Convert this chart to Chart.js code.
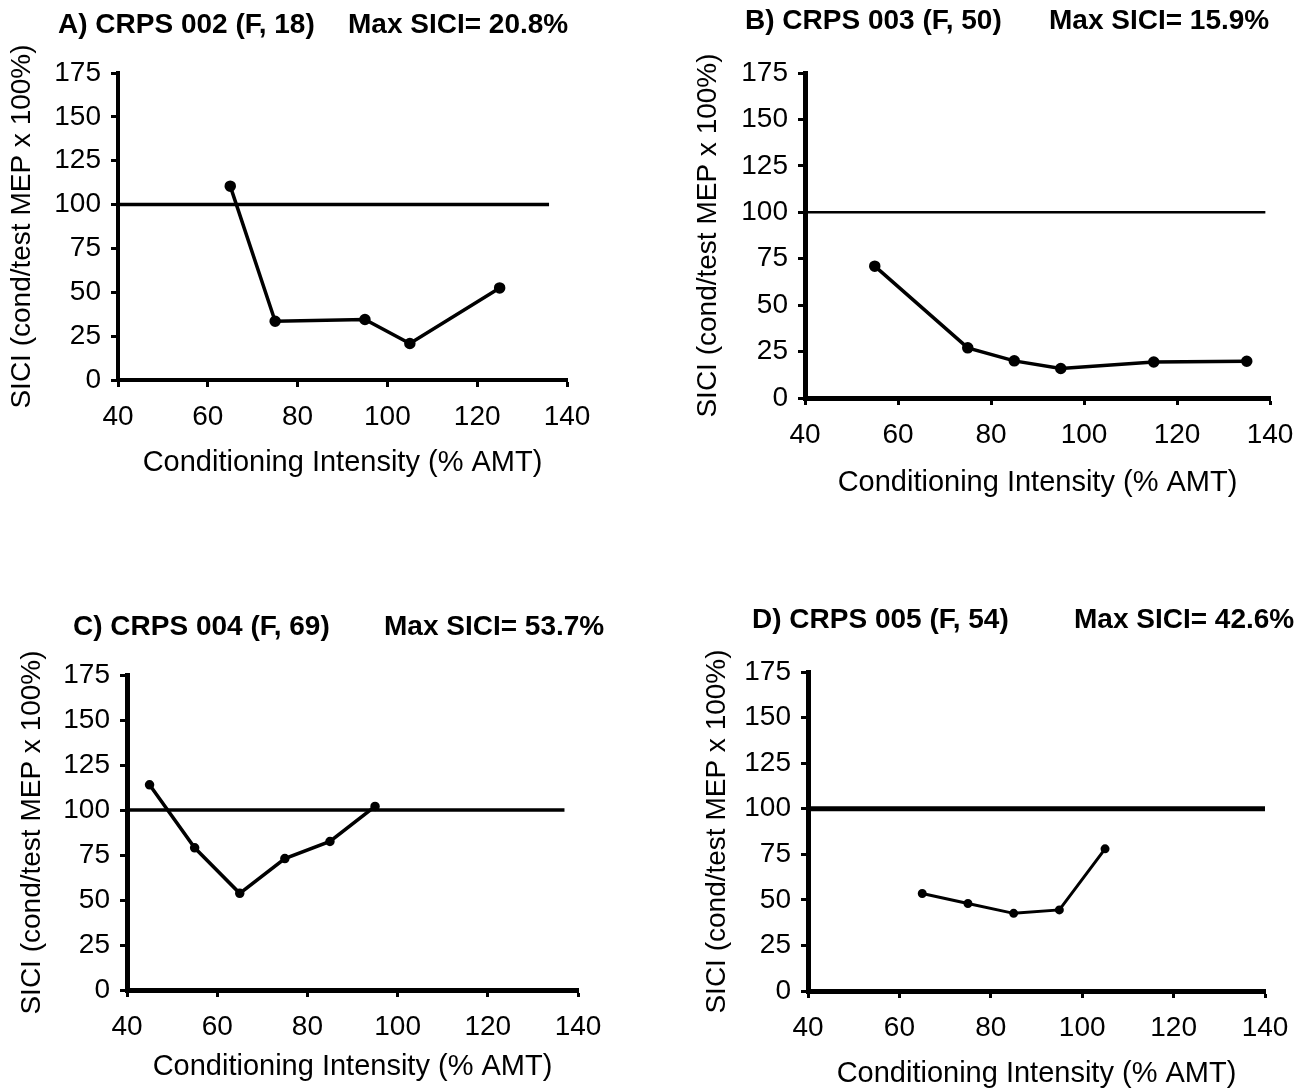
<!DOCTYPE html>
<html>
<head>
<meta charset="utf-8">
<script src="https://cdn.jsdelivr.net/npm/chart.js@4/dist/chart.umd.min.js"></script>
<style>
  body { margin: 0; width: 1310px; height: 1089px; overflow: hidden; background: #fff; position: relative; font-family: "Liberation Sans", Arial, sans-serif; }
  canvas { position: absolute; }
  .ttl { position: absolute; font-weight: bold; font-size: 28px; line-height: 28px; white-space: nowrap; color: #000; }
</style>
</head>
<body>
<script>
// shared axis ticks
const xTickMin = 40, xTickMax = 140, xTickStep = 20;
const yTickMin = 0, yTickMax = 175, yTickStep = 25;
const xTitle = 'Conditioning Intensity (% AMT)';
const yTitle = 'SICI (cond/test MEP x 100%)';
const refLevel = 100;

// panel titles
const panelNames = ['A) CRPS 002 (F, 18)', 'B) CRPS 003 (F, 50)', 'C) CRPS 004 (F, 69)', 'D) CRPS 005 (F, 54)'];
const maxSici = ['Max SICI= 20.8%', 'Max SICI= 15.9%', 'Max SICI= 53.7%', 'Max SICI= 42.6%'];

// series (conditioning intensity, SICI)
const aIntensity = [65, 75, 95, 105, 125];
const aSici = [110.5, 33.5, 34.5, 20.8, 52.5];
const bIntensity = [55, 75, 85, 95, 115, 135];
const bSici = [71, 27, 20, 15.9, 19.4, 19.8];
const cIntensity = [45, 55, 65, 75, 85, 95];
const cSici = [114, 79, 53.7, 73, 82.5, 102];
const dIntensity = [65, 75, 85, 95, 105];
const dSici = [53.5, 48, 42.6, 44.5, 78];

// where the 100% reference line stops on each panel
const refEnd = [136, 139, 137, 140];

// layout of each panel (chart area in page pixels)
const panels = [
  { xs: aIntensity, ys: aSici, L: 118, R: 567, T: 73, B: 380, xOff: 82, yOff: 96, lw: 3.5, pr: 4, refW: 3.5, axW: 4, t1: 58, t2: 348, ty: 24 },
  { xs: bIntensity, ys: bSici, L: 805, R: 1270, T: 73, B: 398, xOff: 84, yOff: 97, lw: 3.5, pr: 4, refW: 2.5, axW: 5, t1: 745, t2: 1049, ty: 20 },
  { xs: cIntensity, ys: cSici, L: 127, R: 578, T: 675, B: 990, xOff: 76, yOff: 95, lw: 3.5, pr: 3, refW: 3.5, axW: 5, t1: 73, t2: 384, ty: 626 },
  { xs: dIntensity, ys: dSici, L: 808, R: 1265, T: 672, B: 991, xOff: 82, yOff: 91, lw: 3, pr: 3, refW: 5, axW: 5, t1: 752, t2: 1074, ty: 619 }
];

Chart.defaults.font.family = '"Liberation Sans", Arial, sans-serif';
Chart.defaults.color = '#000';

panels.forEach((p, i) => {
  const yAxisW = 118, padR = 45;
  const xAxisH = p.xOff + 18;
  const left = p.L - yAxisW, top = p.T - 40;
  const w = p.R + padR - left, h = p.B + xAxisH - top;

  const canvas = document.createElement('canvas');
  canvas.width = w;
  canvas.height = h;
  canvas.style.left = left + 'px';
  canvas.style.top = top + 'px';
  document.body.appendChild(canvas);

  [[panelNames[i], p.t1], [maxSici[i], p.t2]].forEach(([txt, x]) => {
    const d = document.createElement('div');
    d.className = 'ttl';
    d.textContent = txt;
    d.style.left = x + 'px';
    d.style.top = (p.ty - 14) + 'px';
    document.body.appendChild(d);
  });

  const axisGrid = { display: true, drawOnChartArea: false, drawTicks: true, tickLength: 7, tickWidth: 3, tickColor: '#000' };
  const axisBorder = { display: true, color: '#000', width: p.axW };

  new Chart(canvas, {
    type: 'line',
    data: {
      datasets: [{
        data: p.xs.map((x, k) => ({ x: x, y: p.ys[k] })),
        borderColor: '#000',
        backgroundColor: '#000',
        borderWidth: p.lw,
        pointRadius: p.pr,
        tension: 0
      }, {
        data: [{ x: xTickMin, y: refLevel }, { x: refEnd[i], y: refLevel }],
        borderColor: '#000',
        borderWidth: p.refW,
        pointRadius: 0
      }]
    },
    options: {
      responsive: false,
      animation: false,
      events: [],
      layout: { padding: { left: 0, top: 40, right: padR, bottom: 0 } },
      plugins: { legend: { display: false }, tooltip: { enabled: false } },
      scales: {
        x: {
          type: 'linear', min: xTickMin, max: xTickMax,
          ticks: { stepSize: xTickStep, padding: 13, color: '#000', font: { size: 28 } },
          grid: axisGrid,
          border: axisBorder,
          title: { display: true, text: xTitle, color: '#000', font: { size: 29 }, padding: { top: 0, bottom: 0 } },
          afterFit: s => { s.height = xAxisH; }
        },
        y: {
          min: yTickMin, max: yTickMax,
          ticks: { stepSize: yTickStep, padding: 10, color: '#000', font: { size: 28 } },
          grid: axisGrid,
          border: axisBorder,
          title: { display: true, text: yTitle, color: '#000', font: { size: 28 }, padding: { top: 101.2 - p.yOff, bottom: 0 } },
          afterFit: s => { s.width = yAxisW; }
        }
      }
    }
  });
});
</script>
</body>
</html>
